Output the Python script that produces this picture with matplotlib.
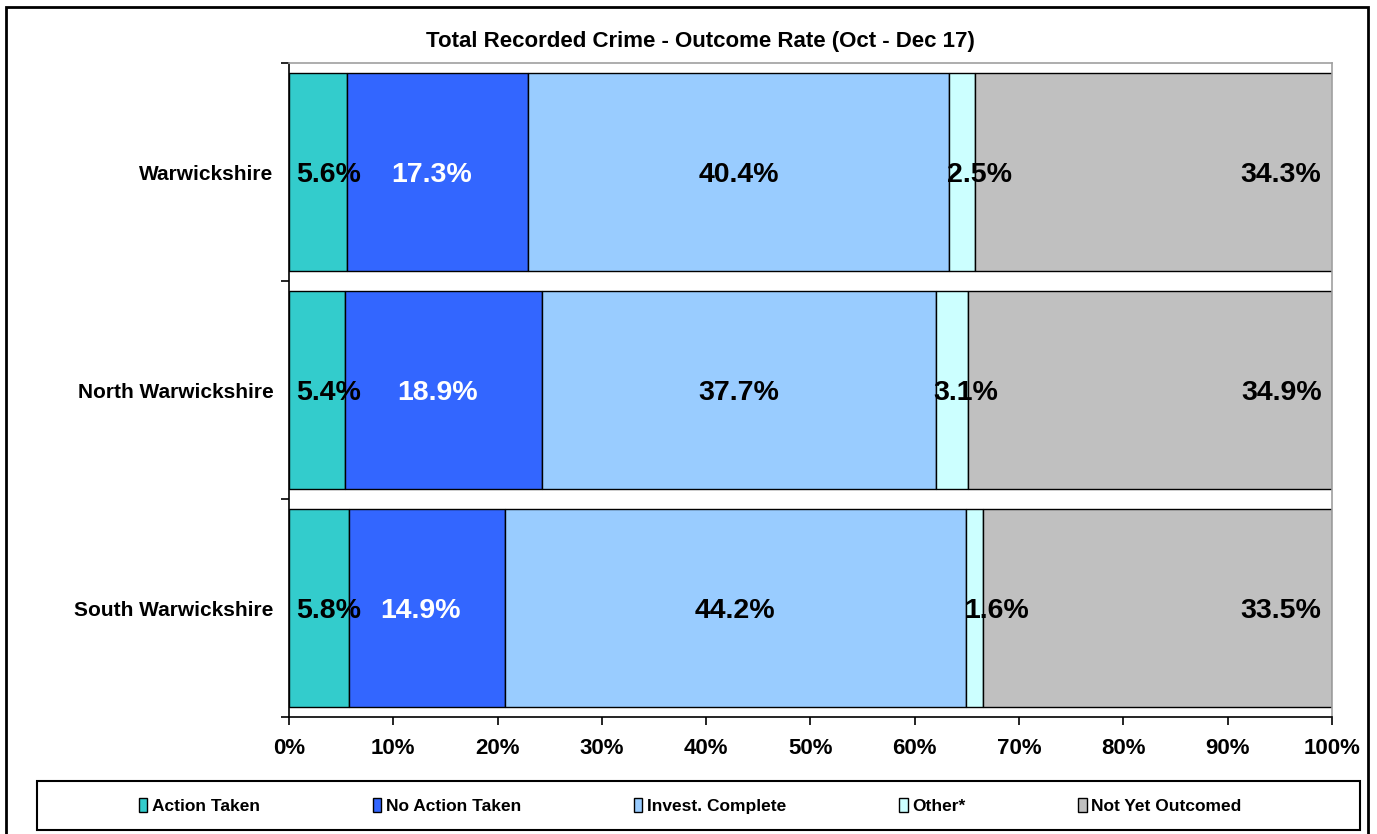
import matplotlib.pyplot as plt
import numpy as np
from matplotlib.patches import Rectangle

plt.rcParams['font.family'] = ['Liberation Sans', 'DejaVu Sans']

# Data
areas = ['Warwickshire', 'North Warwickshire', 'South Warwickshire']
outcomes = ['Action Taken', 'No Action Taken', 'Invest. Complete', 'Other*', 'Not Yet Outcomed']
action_taken = [5.6, 5.4, 5.8]
no_action_taken = [17.3, 18.9, 14.9]
invest_complete = [40.4, 37.7, 44.2]
other = [2.5, 3.1, 1.6]
not_yet_outcomed = [34.3, 34.9, 33.5]

colors = ['#33CCCC', '#3366FF', '#99CCFF', '#CCFFFF', '#C0C0C0']
label_colors = ['black', 'white', 'black', 'black', 'black']

series = [action_taken, no_action_taken, invest_complete, other, not_yet_outcomed]

fig = plt.figure(figsize=(13.77, 8.34), dpi=100)
ax = fig.add_axes([289 / 1377, 1 - 717 / 834, (1332 - 289) / 1377, (717 - 63) / 834])

y = np.arange(len(areas))
left = np.zeros(len(areas))
for i, (vals, col) in enumerate(zip(series, colors)):
    vals = np.array(vals)
    ax.barh(y, vals, left=left, height=0.91, color=col, edgecolor='black',
            linewidth=1.0, label=outcomes[i], zorder=2)
    for j, v in enumerate(vals):
        txt = f'{v:.1f}%'
        if i == 0:
            xpos, ha = left[j] + 0.7, 'left'
        elif i == 3:
            xpos, ha = left[j] - 0.2, 'left'
        elif i == 4:
            xpos, ha = 99.0, 'right'
        else:
            xpos, ha = left[j] + v / 2 - (0.6 if i == 1 else 0), 'center'
        ax.text(xpos, y[j] + 0.015, txt, ha=ha, va='center', fontsize=20.5,
                fontweight='bold', color=label_colors[i], zorder=3)
    left = left + vals

ax.set_xlim(0, 100)
ax.set_ylim(2.5, -0.5)
ax.set_xticks(np.arange(0, 101, 10))
ax.set_xticklabels([f'{t}%' for t in range(0, 101, 10)], fontsize=16, fontweight='bold')
ax.set_yticks([-0.5, 0.5, 1.5, 2.5])
ax.set_yticklabels([])
ax.set_yticks(y, minor=True)
ax.set_yticklabels(areas, minor=True, fontsize=15, fontweight='bold')
ax.tick_params(axis='y', which='minor', length=0, pad=11)
ax.tick_params(axis='y', which='major', length=6, width=1.2, direction='out')
ax.tick_params(axis='x', length=6, width=1.2, direction='out', pad=9)

for side in ['top', 'right']:
    ax.spines[side].set_color('#A0A0A0')
    ax.spines[side].set_linewidth(1.2)
for side in ['left', 'bottom']:
    ax.spines[side].set_color('black')
    ax.spines[side].set_linewidth(1.2)

fig.text(700 / 1377, 1 - 42 / 834,
         'Total Recorded Crime - Outcome Rate (Oct - Dec 17)',
         ha='center', va='center', fontsize=16, fontweight='bold')

# Outer chart border
fig.add_artist(Rectangle((6 / 1377, -0.02), (1368 - 6) / 1377, 1.02 - 7 / 834,
                         transform=fig.transFigure, fill=False,
                         edgecolor='black', linewidth=2))

# Legend box
fig.add_artist(Rectangle((37 / 1377, 1 - 830 / 834), (1360 - 37) / 1377, (830 - 781) / 834,
                         transform=fig.transFigure, fill=False,
                         edgecolor='black', linewidth=1.5))
handles, labels = ax.get_legend_handles_labels()
leg = fig.legend(handles, labels, loc='center', ncol=5,
                 bbox_to_anchor=(690 / 1377, 1 - 806 / 834),
                 frameon=False, handlelength=0.5, handleheight=0.9,
                 handletextpad=0.25, columnspacing=6.5,
                 prop={'weight': 'bold', 'size': 12.5})

fig.savefig('out.png', dpi=100)
